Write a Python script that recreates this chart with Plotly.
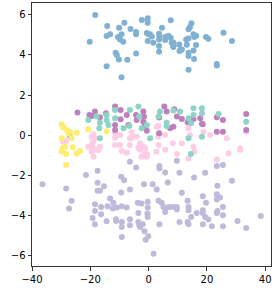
import plotly.graph_objects as go

# ---- data ----
blue_x = [-18.3, -20.2, -14.2, -14.4, -13.2, -8.3, -10.1, -6.2, -4.3, -4.3, -10.5, -9.3, -9.8, -8.7,
          -11.3, -10.9, -10.2, -7.3, -14.4, -9.3, -4.3, -2.3, -0.3, -0.3, 4.6, 7.6, 0.0, 0.5, -0.3, 1.6,
          3.6, 3.6, 3.6, 3.6, 5.7, 5.7, 7.6, 7.9, 8.5, 10.5, 11.4, 10.6, 13.7, 14.2, 14.7, 15.4, 15.7,
          12.9, 13.7, 16.3, 15.4, 13.7, 13.7, 15.6, 13.7, 19.7, 20.5, 23.4, 23.4, 25.7, 28.6,
          3.7, 6.8, 8.5, 11.0, 13.1, 16.3, 8.5, -0.6, 1.1]
blue_y = [5.98, 4.65, 5.44, 4.94, 5.02, 5.6, 5.35, 5.29, 5.14, 5.02, 4.89, 5.02, 4.77, 4.65,
          4.1, 3.99, 3.77, 3.76, 3.44, 2.89, 4.07, 5.73, 5.82, 5.6, 5.35, 5.72, 5.02, 5.02, 4.69, 4.6,
          5.05, 4.77, 4.44, 4.15, 4.89, 4.74, 4.85, 4.6, 4.39, 4.52, 4.27, 4.19, 5.27, 5.39, 5.57, 5.02, 4.89,
          4.77, 4.82, 4.49, 4.22, 4.1, 3.94, 3.8, 3.26, 4.89, 4.8, 3.55, 3.47, 5.1, 4.69,
          4.95, 4.95, 4.62, 4.25, 4.5, 4.95, 4.42, 5.09, 4.92]

lav_x = [-36.4, -28.3, -26.4, -27.3, -21.5, -17.5, -17.5, -16.7, -17.5, -15.3, -18.4, -18.4, -16.3, -14.1,
         -16.3, -19.2, -18.4, -14.4, -13.2, -12.1, -12.3, -10.9, -9.2, -11.2, -11.2, -9.4, -8.4, -9.4,
         -6.4, -4.3, -6.4, -7.5, -9.2, -9.2, -9.2, -6.4, -6.4, -3.7, -2.4, -3.5, -3.5, -3.2, -2.0, -2.9,
         -1.6, -1.4, -0.1, -1.0, -0.3, -0.3, -0.4, -0.3, 1.4, 2.8, 1.7, 3.7, 3.7, 5.7, 3.4, 4.5, 5.1,
         6.2, 5.7, 3.7, 6.6, 7.4, 8.8, 9.7, 9.7, 9.7, 10.6, 10.6, 11.4, 13.4, 13.7, 13.7, 13.4, 13.7,
         14.6, 15.6, 16.5, 18.6, 19.7, 18.6, 18.6, 19.4, 18.6, 19.4, 20.5, 21.7, 23.4, 25.5, 23.6, 23.4,
         23.4, 24.5, 23.6, 23.4, 25.5, 25.5, 25.5, 28.6, 30.5, 33.5, 38.5]
lav_y = [-2.43, -2.64, -3.26, -3.64, -1.98, -1.76, -2.36, -2.76, -2.76, -2.53, -3.43, -3.76, -3.56, -3.53,
         -3.93, -4.11, -4.42, -4.27, -3.14, -3.36, -3.64, -3.59, -3.53, -4.17, -4.26, -2.06, -2.23, -2.84,
         -1.31, -1.6, -2.7, -3.59, -4.31, -4.56, -5.06, -4.17, -4.47, -3.36, -3.39, -3.86, -4.31, -4.47, -4.42, -4.56,
         -2.43, -4.77, -5.02, -5.19, -3.31, -3.59, -3.89, -4.06, -2.43, -2.7, -5.89, -1.53, -1.65, -1.85, -3.26, -3.36, -3.56,
         -3.59, -3.81, -4.42, -2.35, -3.56, -3.56, -3.56, -3.69, -1.27, -1.86, -4.31, -2.86, -3.26, -3.56, -3.73, -4.31, -4.42,
         -4.06, -2.1, -3.86, -3.03, -3.36, -3.73, -3.86, -4.06, -4.42, -1.86, -4.19, -4.52, -1.53, -1.48, -2.51, -2.93,
         -3.19, -3.09, -3.76, -3.86, -3.56, -3.98, -4.52, -2.26, -4.26, -4.61, -4.01]

pink_x = [-29.3, -19.5, -19.0, -20.7, -16.7, -11.5, -11.5, -9.8, -6.4, -6.4, -2.9, -1.8, 3.4, 3.7, 5.7, 3.4,
          8.3, 11.4, 13.7, 14.2, 15.4, 18.8, 21.1, 26.8, 31.4, 33.5,
          -19.5, -17.8, -7.5, -2.9, -1.6, -0.6, 2.6, 5.7, 9.7, 13.7, 15.7, 23.4, 27.4, 31.4,
          -28.3, -18.9, -18.4, -19.5, -18.9, -17.2, -18.9, -11.5, -9.8, -9.2, -5.8, -5.8, -4.1, -3.5,
          -1.2, -2.4, -0.6, 3.4, 2.8]
pink_y = [-0.32, -0.07, -0.32, -0.57, -0.57, 0.1, -0.48, 0.01, -0.15, -0.48, -0.4, -0.57, 0.46, 0.1, 0.01, -0.48,
          -0.4, -0.4, 0.35, 0.01, -0.57, 0.18, 0.01, -0.15, -0.65, 0.18,
          -0.82, -0.72, -0.87, -0.72, -0.93, -0.93, -0.82, -0.72, -0.93, -1.15, -0.82, -1.2, -0.9, -0.72,
          -0.28, 0.05, -0.15, -0.48, -0.65, -0.73, -1.07, -0.12, -0.48, -0.78, 0.15, -0.12, -0.07, -0.62,
          -0.65, -1.07, -1.07, -0.07, 0.43]

purple_x = [-24.4, -20.3, -18.4, -19.5, -16.7, -14.6, -11.5, -9.6, -9.6, -11.5, -11.5, -7.5, -6.9, -4.3,
            -4.1, -1.8, -1.6, -1.8, -1.2, -0.6, 5.4, 6.2, 8.8, 9.7, 11.4, 8.5, 17.7, 18.3, 23.4, 25.5,
            23.4, 25.5, 33.5, 33.5, 3.6, 13.4, 15.4, 7.4, 3.6, 18.6]
purple_y = [1.13, 1.01, 1.18, 0.96, 0.9, 1.1, 1.43, 1.26, 0.8, 0.51, 0.26, 1.01, 0.51, 1.01,
            0.76, 1.18, 0.93, 0.68, 0.46, 0.23, 1.43, 1.18, 1.3, 0.93, 0.81, 0.43, 0.85, 0.57, 0.9, 0.76,
            0.18, 0.18, 1.06, 0.26, 0.88, 0.65, 0.81, 0.35, 0.1, 0.55]

teal_x = [-20.7, -17.8, -16.7, -14.4, -14.4, -11.5, -11.5, -13.8, -6.4, -6.6, -3.5, -3.2, -2.4, 0.5,
          3.9, 3.4, 6.2, 6.2, 8.5, 10.8, 13.7, 13.7, 15.4, 15.4, 18.3, 18.3, 18.3, 24.0, 33.5, 14.6,
          -27.0, -16.7, -16.9, -8.6, -0.6, 14.5]
teal_y = [0.76, 0.93, 0.63, 1.01, 0.76, 1.26, 0.85, 0.51, 1.26, 0.46, 1.43, 0.93, 0.35, -0.15,
          1.18, 0.93, 0.46, 0.63, 1.23, 1.18, 0.85, -0.15, 1.35, 1.01, 1.35, 1.1, -0.07, 1.06, 0.68, 0.6,
          -0.03, -0.15, 0.35, 0.35, 0.51, -0.93]

yellow_x = [-29.8, -29.2, -28.1, -27.5, -29.8, -26.4, -27.0, -24.7, -20.7, -14.4, -29.5, -29.8,
            -28.3, -24.7, -23.5, -28.3, -26.0, -28.7]
yellow_y = [0.55, 0.38, 0.26, 0.1, -0.15, -0.15, 0.18, 0.13, 0.3, 0.2, -0.65, -0.82,
            -0.93, -0.9, -0.78, -1.48, -0.6, -0.57]

groups = [
    ("blue", blue_x, blue_y, "#80b1d3"),
    ("lavender", lav_x, lav_y, "#bebada"),
    ("pink", pink_x, pink_y, "#fccde5"),
    ("purple", purple_x, purple_y, "#bc80bd"),
    ("teal", teal_x, teal_y, "#8dd3c7"),
    ("yellow", yellow_x, yellow_y, "#ffed6f"),
]

fig = go.Figure()
for name, xs, ys, col in groups:
    fig.add_trace(go.Scatter(x=xs, y=ys, mode="markers", name=name,
                             marker=dict(color=col, size=6, line=dict(width=0))))

axis_common = dict(showline=True, mirror=True, linecolor="#333333", linewidth=1,
                   ticks="outside", ticklen=3.5, tickwidth=1, tickcolor="#333333",
                   showgrid=False, zeroline=False, automargin=False,
                   tickfont=dict(family="DejaVu Sans", size=10, color="black"))

fig.update_layout(
    width=274, height=299,
    margin=dict(l=32, r=3, t=3, b=33),
    paper_bgcolor="white", plot_bgcolor="white",
    showlegend=False,
    xaxis=dict(range=[-40, 42], tickvals=[-40, -20, 0, 20, 40], **axis_common),
    yaxis=dict(range=[-6.5, 6.58], tickvals=[-6, -4, -2, 0, 2, 4, 6], **axis_common),
)

fig.write_html("out.html", config={"displayModeBar": False},
               post_script="document.body.style.margin='0';document.body.style.overflow='hidden';")
